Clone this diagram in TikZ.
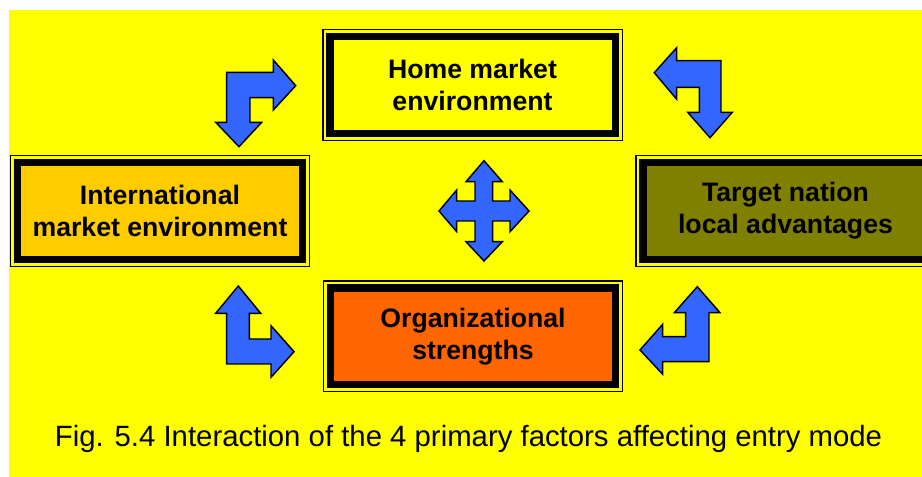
\documentclass[tikz,border=0pt]{standalone}
\usepackage{fontspec}
\setmainfont{Liberation Sans}
\usetikzlibrary{calc}
\definecolor{bgyellow}{HTML}{FFFF00}
\definecolor{arrowblue}{HTML}{3366FF}
\definecolor{intlfill}{HTML}{FFCC00}
\definecolor{targetfill}{HTML}{808000}
\definecolor{orgfill}{HTML}{FF6600}
\begin{document}
\begin{tikzpicture}[x=0.75pt,y=-0.75pt,
  factor/.style={draw=black, line width=5.6pt, outer sep=0pt, inner sep=0pt,
    minimum width=214.1pt, minimum height=72.4pt, align=center, text=black,
    font=\bfseries\fontsize{20}{24}\selectfont},
  frame/.style={draw=black, line width=1.1pt},
  blockarrow/.style={draw=black, fill=arrowblue, line width=1.1pt, line join=miter},
  caption/.style={font=\fontsize{22}{26}\selectfont, anchor=base, inner sep=0pt}]
\useasboundingbox (0,0) rectangle (922,477);
\clip (0,0) rectangle (922,477);
\fill[white] (0,0) rectangle (922,477);
\fill[bgyellow] (9,10) rectangle (922,477);

% factor boxes
\node[factor, fill=bgyellow] (home) at (472.5,85) {Home market\\environment};
\node[factor, fill=intlfill] (intl) at (160,211) {International\\market environment};
\node[factor, fill=targetfill] (target) at (785.5,211) {Target nation\\local advantages};
\node[factor, fill=orgfill] (org) at (473,336.5) {Organizational\\strengths};
\foreach \b in {home,intl,target,org}{
  \draw[frame] ($(\b.north west)+(-7,-7)$) rectangle ($(\b.south east)+(7,7)$);
}

% top-left bent arrow
\draw[blockarrow] (239,146.7) -- (261.7,122.3) -- (250,122.3) -- (250,97.7) -- (273.3,97.7)
  -- (273.3,110) -- (295.7,85.7) -- (273.3,60) -- (273.3,72.3) -- (226.7,72.3)
  -- (226.7,122.3) -- (215.7,122.3) -- cycle;
% top-right bent arrow
\draw[blockarrow] (654.3,72.7) -- (676.7,47.7) -- (676.7,60.7) -- (721,60.7) -- (721,112.3)
  -- (732.3,112.3) -- (710,137.7) -- (687.7,112.3) -- (699.3,112.3) -- (699.3,87.3)
  -- (676.7,87.3) -- (676.7,99.3) -- cycle;
% bottom-left bent arrow
\draw[blockarrow] (238.3,286) -- (260.7,313.3) -- (249.3,313.3) -- (249.3,339) -- (271,339)
  -- (271,325.7) -- (294,351.7) -- (271,377.3) -- (271,364) -- (226.7,364)
  -- (226.7,313.3) -- (215.7,313.3) -- cycle;
% bottom-right bent arrow
\draw[blockarrow] (697.3,286.7) -- (720,312.7) -- (709,312.7) -- (709,361.7) -- (662.7,361.7)
  -- (662.7,374.3) -- (640,350) -- (662.7,324.3) -- (662.7,336.7) -- (685.7,336.7)
  -- (685.7,312.7) -- (674.3,312.7) -- cycle;
% centre four-way arrow
\draw[blockarrow] (484,160.7) -- (502.3,181.7) -- (492.7,181.7) -- (492.7,201) -- (510,201)
  -- (510,190) -- (529,211) -- (510,231.7) -- (510,221) -- (492.7,221) -- (492.7,241.7)
  -- (502.3,241.7) -- (484,261) -- (466,241.7) -- (475,241.7) -- (475,221) -- (456.7,221)
  -- (456.7,231.7) -- (439,211) -- (456.7,190) -- (456.7,201) -- (475,201) -- (475,181.7)
  -- (466,181.7) -- cycle;

% caption
\node[caption] (cap) at (468.5,446.7) {Fig. 5.4 Interaction of the 4 primary factors affecting entry mode};
\end{tikzpicture}
\end{document}
